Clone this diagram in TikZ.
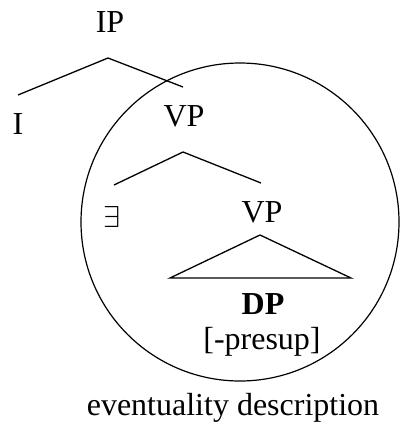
\documentclass[tikz,border=0pt]{standalone}
\usepackage{fontspec}
\setmainfont{Liberation Serif}
\usepackage{tikz}

\begin{document}
\begin{tikzpicture}[
        x=1pt, y=-1pt,
        font=\fontsize{32}{38}\selectfont,
        cat/.style={inner sep=0pt, anchor=center},
        branch/.style={line width=1.3pt, line join=miter},
        scopering/.style={line width=1.2pt}
    ]
        \useasboundingbox (0,0) rectangle (400,425);

        % --- IP level ---
        \node[cat] (ip) at (110,22) {IP};
        \coordinate (ipTop) at (108,58);
        \coordinate (ipLeft) at (18,95);
        \coordinate (ipRight) at (183,87);
        \draw[branch] (ipLeft) -- (ipTop) -- (ipRight);
        \node[cat] (infl) at (18,124) {I};

        % --- upper VP ---
        \node[cat] (vp) at (184,116) {VP};
        \coordinate (vpTop) at (183,152);
        \coordinate (vpLeft) at (114,185);
        \coordinate (vpRight) at (261,183);
        \draw[branch] (vpLeft) -- (vpTop) -- (vpRight);
        \node[cat] (exist) at (112,217) {\resizebox{17pt}{21pt}{$\exists$}};

        % --- lower VP with DP triangle ---
        \node[cat] (vpLow) at (262,212) {VP};
        \coordinate (triTop) at (260,235);
        \coordinate (triLeft) at (170,278);
        \coordinate (triRight) at (351,278);
        \draw[branch] (triTop) -- (triLeft) -- (triRight) -- cycle;
        \node[cat, font=\fontsize{32}{38}\selectfont\bfseries] (dp) at (263,304) {DP};
        \node[cat] (presup) at (262,342) {[-presup]};

        % --- scope circle ---
        \node[draw, scopering, circle, minimum size=318pt, inner sep=0pt] (ring) at (240,222) {};
        \node[cat] (evdesc) at (233,408) {eventuality description};
    \end{tikzpicture}
\end{document}
